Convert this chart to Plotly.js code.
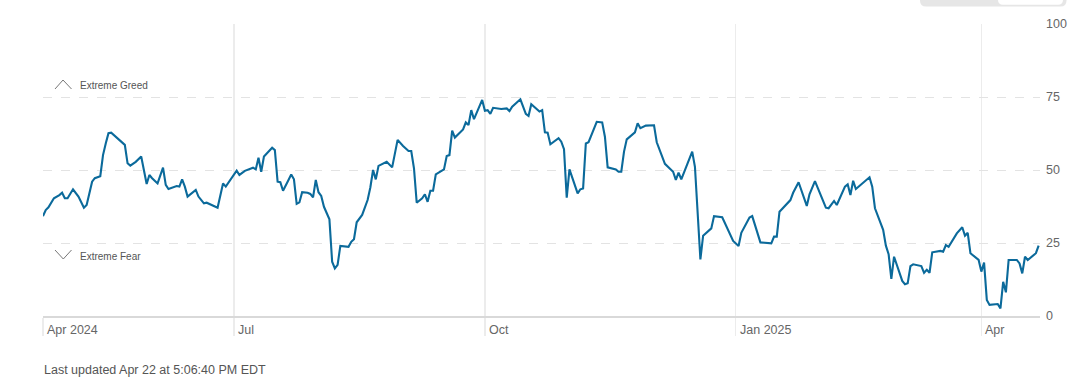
<!DOCTYPE html>
<html>
<head>
<meta charset="utf-8">
<script src="https://cdn.plot.ly/plotly-3.0.1.min.js"></script>
<style>
  html, body { margin: 0; padding: 0; background: #fff; }
  #chart { width: 1079px; height: 377px; }
</style>
</head>
<body>
<div id="chart"></div>
<script>
// Fear & Greed index history
const dates = [
  "2024-04-22","2024-04-23","2024-04-24","2024-04-26","2024-04-28","2024-04-29","2024-04-30","2024-05-01","2024-05-03","2024-05-05",
  "2024-05-07","2024-05-08","2024-05-10","2024-05-11","2024-05-13","2024-05-14","2024-05-15","2024-05-16","2024-05-17","2024-05-19",
  "2024-05-21","2024-05-22","2024-05-23","2024-05-24","2024-05-26","2024-05-28","2024-05-30","2024-05-31","2024-06-01","2024-06-03",
  "2024-06-05","2024-06-06","2024-06-07","2024-06-09","2024-06-10","2024-06-11","2024-06-12","2024-06-13","2024-06-14","2024-06-17",
  "2024-06-18","2024-06-20","2024-06-21","2024-06-25","2024-06-27","2024-06-28","2024-06-30","2024-07-02","2024-07-03","2024-07-05",
  "2024-07-08","2024-07-09","2024-07-10","2024-07-11","2024-07-12","2024-07-14","2024-07-15","2024-07-16","2024-07-17","2024-07-18",
  "2024-07-19","2024-07-21","2024-07-22","2024-07-23","2024-07-24","2024-07-25","2024-07-26","2024-07-28","2024-07-29","2024-07-30",
  "2024-07-31","2024-08-01","2024-08-02","2024-08-03","2024-08-05","2024-08-06","2024-08-07","2024-08-08","2024-08-09","2024-08-12",
  "2024-08-13","2024-08-14","2024-08-15","2024-08-17","2024-08-19","2024-08-20","2024-08-21","2024-08-22","2024-08-23","2024-08-26",
  "2024-08-28","2024-08-30","2024-09-01","2024-09-03","2024-09-04","2024-09-05","2024-09-06","2024-09-08","2024-09-09","2024-09-10",
  "2024-09-11","2024-09-12","2024-09-13","2024-09-16","2024-09-17","2024-09-18","2024-09-19","2024-09-20","2024-09-23","2024-09-24",
  "2024-09-25","2024-09-26","2024-09-27","2024-09-30","2024-10-01","2024-10-02","2024-10-03","2024-10-04","2024-10-07","2024-10-09",
  "2024-10-10","2024-10-11","2024-10-14","2024-10-16","2024-10-17","2024-10-18","2024-10-21","2024-10-22","2024-10-23","2024-10-24",
  "2024-10-25","2024-10-28","2024-10-29","2024-10-30","2024-10-31","2024-11-01","2024-11-04","2024-11-05","2024-11-06","2024-11-07",
  "2024-11-08","2024-11-11","2024-11-13","2024-11-14","2024-11-15","2024-11-18","2024-11-19","2024-11-20","2024-11-21","2024-11-22",
  "2024-11-25","2024-11-26","2024-11-27","2024-11-29","2024-12-02","2024-12-03","2024-12-04","2024-12-06","2024-12-09","2024-12-10",
  "2024-12-11","2024-12-12","2024-12-16","2024-12-17","2024-12-19","2024-12-20","2024-12-23","2024-12-24","2024-12-27","2024-12-29",
  "2024-12-31","2025-01-02","2025-01-03","2025-01-06","2025-01-07","2025-01-10","2025-01-14","2025-01-15","2025-01-16","2025-01-17",
  "2025-01-21","2025-01-22","2025-01-24","2025-01-27","2025-01-28","2025-01-30","2025-02-03","2025-02-04","2025-02-06","2025-02-07",
  "2025-02-10","2025-02-11","2025-02-12","2025-02-13","2025-02-14","2025-02-19","2025-02-20","2025-02-21","2025-02-24","2025-02-25",
  "2025-02-26","2025-02-27","2025-02-28","2025-03-03","2025-03-04","2025-03-05","2025-03-06","2025-03-07","2025-03-10","2025-03-11",
  "2025-03-12","2025-03-13","2025-03-14","2025-03-17","2025-03-18","2025-03-19","2025-03-20","2025-03-23","2025-03-25","2025-03-26",
  "2025-03-27","2025-03-28","2025-03-31","2025-04-01","2025-04-02","2025-04-03","2025-04-04","2025-04-07","2025-04-08","2025-04-09",
  "2025-04-10","2025-04-11","2025-04-14","2025-04-15","2025-04-16","2025-04-17","2025-04-18","2025-04-21","2025-04-22"
];
const scores = [
  34.2,36.3,37.2,40.3,41.4,42.2,40.3,40.3,43.4,40.9,
  37.1,38.0,46.0,47.2,47.9,55.1,59.1,62.6,62.8,61.1,
  59.7,58.6,52.3,51.5,52.8,54.6,45.2,48.3,47.2,45.4,
  50.8,44.9,43.5,44.1,44.5,44.3,46.8,44.3,40.9,43.2,
  40.9,38.6,38.8,37.1,45.4,44.3,47.2,49.8,48.3,49.7,
  50.8,50.2,54.2,49.4,54.6,56.8,57.6,56.8,46.0,45.8,
  42.9,46.6,48.5,46.8,38.4,38.9,42.4,42.2,41.8,40.6,
  46.6,42.4,41.1,37.4,33.1,18.6,16.3,17.5,24.0,23.7,
  25.4,26.3,32.1,34.6,39.7,44.0,50.0,46.8,51.4,52.8,
  50.9,60.3,58.2,56.5,56.5,50.6,38.8,40.3,41.7,39.1,
  42.9,42.9,48.5,50.2,54.8,55.1,63.5,61.1,63.9,66.3,
  65.4,70.5,67.4,74.0,70.3,70.5,69.2,71.3,70.9,71.1,
  70.2,71.7,74.2,69.2,68.5,72.5,70.0,70.5,62.9,62.8,
  58.8,60.9,59.7,57.1,40.5,50.2,42.0,43.4,43.7,59.1,
  59.5,66.5,66.3,61.4,50.9,50.2,49.4,49.4,56.3,60.5,
  62.9,66.0,64.3,65.2,65.3,59.5,56.8,52.1,49.4,46.6,
  49.1,46.8,56.3,51.1,19.4,27.5,30.0,34.2,33.8,29.5,
  25.7,24.0,28.5,33.7,34.2,25.2,24.9,27.2,27.2,35.7,
  39.7,42.2,45.8,37.7,41.7,46.2,37.1,36.9,39.4,38.0,
  44.3,45.1,41.4,46.3,43.5,47.5,44.3,36.9,29.5,24.1,
  21.2,12.7,20.3,12.0,10.9,11.2,17.1,17.7,17.1,14.8,
  15.8,14.8,21.8,22.3,22.0,24.3,23.7,28.3,30.4,27.5,
  28.5,21.5,19.2,15.2,18.3,5.5,3.8,4.1,2.6,11.7,
  8.1,19.2,19.2,18.0,14.6,20.3,19.2,21.5,24.1
];

const xTickVals = ["2024-04-22","2024-07-01","2024-10-01","2025-01-01","2025-04-01"];
const xTickText = ["Apr 2024","Jul","Oct","Jan 2025","Apr"];
const yTickVals = [0,25,50,75,100];
const zoneLabels = ["Extreme Greed","Extreme Fear"];
const footnote = "Last updated Apr 22 at 5:06:40 PM EDT";

const FONT = '"Liberation Sans", Arial, sans-serif';
const LINE = '#0b6a9b';

const trace = {
  x: dates, y: scores, type: 'scatter', mode: 'lines',
  line: { color: LINE, width: 2.1 }, hoverinfo: 'skip'
};

// x tick labels, left aligned right of each gridline
const annotations = xTickVals.map((d, i) => ({
  x: d, xref: 'x', y: -0.048, yref: 'paper',
  text: xTickText[i], showarrow: false, xanchor: 'left', yanchor: 'middle',
  xshift: 2, font: { family: FONT, size: 12.5, color: '#666' }
}));
annotations.push(
  { x: 0.0371, xref: 'paper', y: 0.7887, yref: 'paper', text: zoneLabels[0], showarrow: false,
    xanchor: 'left', yanchor: 'middle', xshift: -1.5, font: { family: FONT, size: 10, color: '#555' } },
  { x: 0.0371, xref: 'paper', y: 0.2038, yref: 'paper', text: zoneLabels[1], showarrow: false,
    xanchor: 'left', yanchor: 'middle', xshift: -1.5, font: { family: FONT, size: 10, color: '#555' } },
  { x: 0.0, xref: 'paper', y: -0.185, yref: 'paper', text: footnote, showarrow: false,
    xanchor: 'left', yanchor: 'middle', xshift: -1.5, font: { family: FONT, size: 12.5, color: '#555' } }
);

// helper for pixel -> paper
const L = 43, R = 1040, T = 24, B = 316;
const px = v => (v - L) / (R - L);
const py = v => (B - v) / (B - T);

function roundedBottom(x0, x1, yb, r) {
  const top = py(-10);
  return `M ${px(x0)},${top} L ${px(x0)},${py(yb - r)} Q ${px(x0)},${py(yb)} ${px(x0 + r)},${py(yb)} ` +
         `L ${px(x1 - r)},${py(yb)} Q ${px(x1)},${py(yb)} ${px(x1)},${py(yb - r)} L ${px(x1)},${top} Z`;
}

const shapes = [
  // chevrons
  { type: 'path', xref: 'paper', yref: 'paper',
    path: `M ${px(55)},${py(89)} L ${px(63)},${py(80)} L ${px(71.5)},${py(89)}`,
    line: { color: '#777', width: 1 } },
  { type: 'path', xref: 'paper', yref: 'paper',
    path: `M ${px(55)},${py(250)} L ${px(63.3)},${py(259)} L ${px(71.5)},${py(250)}`,
    line: { color: '#777', width: 1 } },
  // partial toggle at the top right
  { type: 'path', xref: 'paper', yref: 'paper', path: roundedBottom(920, 1066.5, 6.5, 6),
    fillcolor: '#e6e6e6', line: { width: 0 }, layer: 'above' },
  { type: 'path', xref: 'paper', yref: 'paper', path: roundedBottom(998, 1063, 4.8, 5),
    fillcolor: '#ffffff', line: { width: 0 }, layer: 'above' }
];

const layout = {
  width: 1079, height: 377,
  margin: { l: L, r: 1079 - R, t: T, b: 377 - B },
  paper_bgcolor: '#fff', plot_bgcolor: '#fff',
  showlegend: false,
  hovermode: false,
  font: { family: FONT, size: 12.5, color: '#666' },
  xaxis: {
    type: 'date',
    range: ['2024-04-22', '2025-04-22 12:00'],
    tickmode: 'array', tickvals: xTickVals, ticktext: xTickText,
    showticklabels: false,
    showgrid: true, gridcolor: '#ececec', gridwidth: 1.2,
    ticks: 'outside', ticklen: 18, tickcolor: '#ececec', tickwidth: 1.2,
    showline: true, linecolor: '#d9d9d9', linewidth: 2,
    zeroline: false, fixedrange: true
  },
  yaxis: {
    range: [0, 100], side: 'right',
    tickmode: 'array', tickvals: yTickVals,
    showgrid: true, gridcolor: '#e3e3e3', griddash: 'dash', gridwidth: 1,
    zeroline: false, showline: false, ticks: '',
    ticklabelstandoff: 5,
    tickfont: { family: FONT, size: 12.5, color: '#666' },
    fixedrange: true
  },
  annotations: annotations,
  shapes: shapes
};

Plotly.newPlot('chart', [trace], layout, { displayModeBar: false, staticPlot: true });
</script>
</body>
</html>
